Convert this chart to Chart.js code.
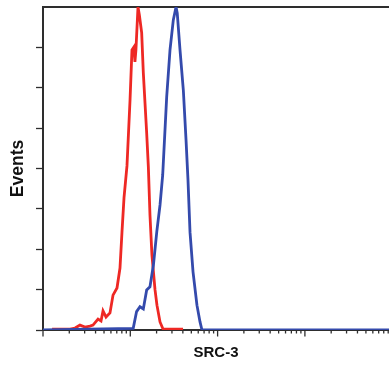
<!DOCTYPE html>
<html><head><meta charset="utf-8">
<script src="https://cdn.jsdelivr.net/npm/chart.js@4"></script>
<style>html,body{margin:0;padding:0;background:#fff}#wrap{width:389px;height:374px}</style>
</head><body><div id="wrap"><canvas id="c" width="389" height="374"></canvas></div>
<script>
// ---- data ----
const xTitle = 'SRC-3';
const yTitle = 'Events';
const redX = [1.27, 2.04, 2.33, 2.65, 3.03, 3.45, 3.74, 4.27, 4.62, 4.87, 5.27, 5.85, 6.34, 7.04, 7.62, 8.03, 8.47, 9.16, 9.93, 10.45, 11.0, 11.3, 11.6, 12.25, 12.7, 13.5, 14.1, 15.4, 16.1, 16.8, 17.7, 19.2, 20.2, 21.9, 23.7, 28.5, 40.2];
const redY = [0.3, 0.3, 0.6, 1.5, 0.9, 1.2, 1.5, 3.4, 2.8, 5.9, 4.0, 5.3, 10.8, 13.0, 19.2, 30.3, 40.9, 50.8, 71.2, 86.7, 87.6, 83, 86.7, 100, 97.5, 92, 79.6, 61, 50.5, 35.6, 23.2, 12.4, 7.7, 2.5, 0.3, 0.3, 0.3];
const blueX = [1, 10.8, 11.8, 12.9, 14.1, 15.4, 16.8, 18.4, 20.1, 21.9, 23.5, 26.1, 28.5, 31.1, 33.4, 34.5, 37.1, 40.5, 43.5, 45.8, 48.3, 52.3, 58.0, 62.9, 66.2, 9190];
const blueY = [0, 0.5, 5.7, 7.2, 6.5, 12.4, 13.4, 20.1, 30.4, 38.7, 48, 72.1, 86.7, 96, 100, 98.1, 86.7, 74.3, 58.8, 46.4, 30.3, 18.0, 7.7, 2.5, 0, 0];
const xMin = 1, xMax = 9190;
const xDecades = [1, 10, 100, 1000];
const xMantissas = [1, 2, 3, 4, 5, 6, 7, 8, 9];
const yMin = 0, yMax = 100, yStep = 12.5;

// ---- styling ----
const axisColor = '#2e2e2e';
const redColor = 'rgb(238,40,36)';
const blueColor = 'rgb(52,74,172)';
const fontFam = "'Liberation Sans', Arial, sans-serif";

const xTickValues = [];
xDecades.forEach(d => xMantissas.forEach(m => { const v = d * m; if (v >= xMin && v <= xMax) xTickValues.push(v); }));

const toPts = (xs, ys) => xs.map((x, i) => ({x: x, y: ys[i]}));

const logTicks = {
  id: 'logTicks',
  afterDraw(chart) {
    const s = chart.scales.x, ctx = chart.ctx;
    ctx.save();
    ctx.strokeStyle = axisColor;
    ctx.lineWidth = 1.3;
    s.ticks.forEach(t => {
      const lg = Math.log10(t.value);
      const major = Math.abs(lg - Math.round(lg)) < 1e-9;
      const px = s.getPixelForValue(t.value);
      const len = major ? 6.5 : 3.5;
      ctx.beginPath();
      ctx.moveTo(px, s.top);
      ctx.lineTo(px, s.top + len);
      ctx.stroke();
    });
    ctx.restore();
  }
};

new Chart(document.getElementById('c'), {
  type: 'scatter',
  data: {
    datasets: [
      {data: toPts(blueX, blueY), borderColor: blueColor, borderWidth: 2.8, showLine: true, pointRadius: 0, tension: 0},
      {data: toPts(redX, redY), borderColor: redColor, borderWidth: 2.8, showLine: true, pointRadius: 0, tension: 0}
    ]
  },
  options: {
    responsive: false,
    animation: false,
    devicePixelRatio: 1,
    layout: {padding: {left: 8, top: 7, right: 0, bottom: 0}},
    plugins: {legend: {display: false}, tooltip: {enabled: false}},
    scales: {
      x: {
        type: 'logarithmic', position: 'bottom', min: xMin, max: xMax, z: 1,
        grid: {display: false, drawTicks: false},
        border: {display: true, color: axisColor, width: 2},
        ticks: {display: false},
        afterBuildTicks: (scale) => { scale.ticks = xTickValues.map(v => ({value: v})); },
        title: {display: true, text: xTitle, color: '#111', font: {family: fontFam, size: 15, weight: 'bold', lineHeight: 1.2}, padding: {top: 13.9, bottom: 12.1}}
      },
      xTop: {
        type: 'linear', position: 'top', min: 0, max: 1,
        grid: {display: false, drawTicks: false},
        border: {display: true, color: axisColor, width: 2},
        ticks: {display: false}
      },
      y: {
        type: 'linear', position: 'left', min: yMin, max: yMax,
        ticks: {display: false, stepSize: yStep},
        grid: {display: true, drawOnChartArea: false, drawTicks: true, tickLength: 7, tickWidth: 1.3,
               tickColor: (ctx) => (ctx.tick && ctx.tick.value === yMax) ? 'rgba(0,0,0,0)' : axisColor},
        border: {display: true, color: axisColor, width: 2},
        title: {display: true, text: yTitle, color: '#111', font: {family: fontFam, size: 17.5, weight: 'bold', lineHeight: 1.2}, padding: {top: 0, bottom: 7}}
      }
    }
  },
  plugins: [logTicks]
});
</script>
</body></html>
